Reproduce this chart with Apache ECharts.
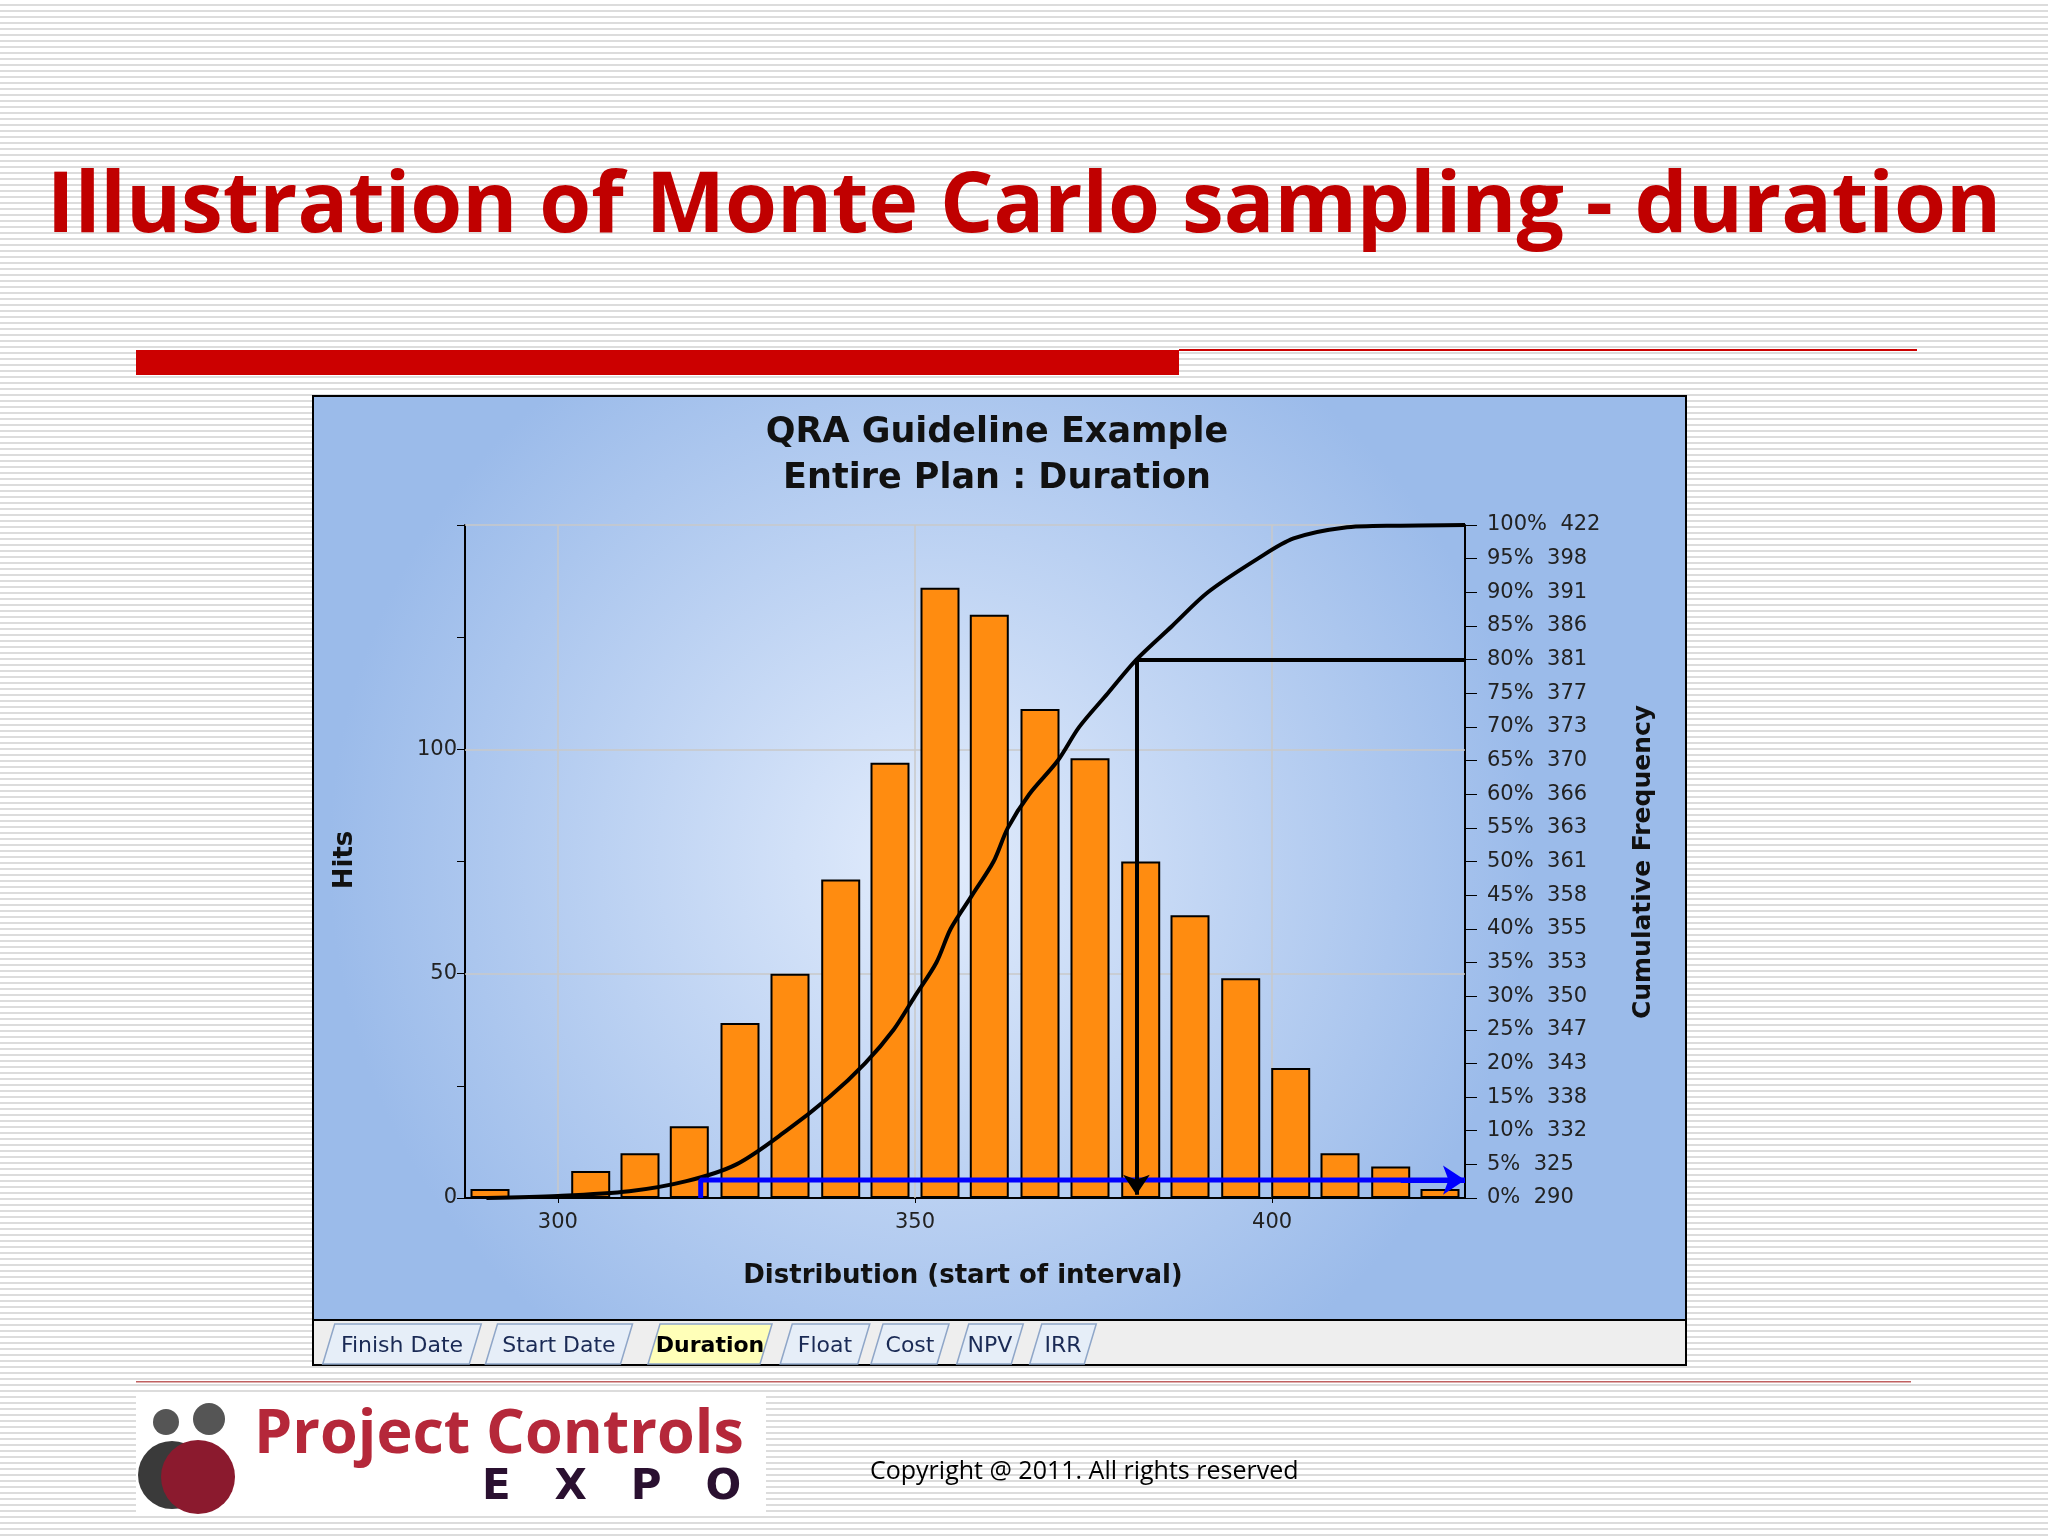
<!DOCTYPE html>
<html><head><meta charset="utf-8">
<script src="https://cdn.jsdelivr.net/npm/echarts@6/dist/echarts.min.js"></script>
<style>
html,body{margin:0;padding:0;width:2048px;height:1536px;overflow:hidden;
background:repeating-linear-gradient(to bottom,#ffffff 0px,#ffffff 4px,#dcdcdc 4px,#dcdcdc 6px);}
#c{width:2048px;height:1536px;}
</style></head><body><div id="c"></div>
<script>
// Bin start positions (distribution) and hits
const binX = [290.5,304.6,311.5,318.4,325.5,332.5,339.6,346.5,353.5,360.4,367.5,374.5,381.6,388.5,395.6,402.6,409.5,416.6,423.5];
const hits = [2,6,10,16,39,50,71,97,136,130,109,98,75,63,49,29,10,7,2];
// Cumulative curve (value, percent)
const cumVal = [290,300,310,318,325,332,338,343,347,350,353,355,358,361,363,366,370,373,377,381,386,391,398,403,410,418,427];
const cumPct = [0,0.3,1,2.5,5,10,15,20,25,30,35,40,45,50,55,60,65,70,75,80,85,90,95,98,99.6,99.9,100];
const rightLabels = ['0%  290','5%  325','10%  332','15%  338','20%  343','25%  347','30%  350','35%  353','40%  355','45%  358','50%  361','55%  363','60%  366','65%  370','70%  373','75%  377','80%  381','85%  386','90%  391','95%  398','100%  422'];
const xTicks = [300,350,400];
const tabs = ['Finish Date','Start Date','Duration','Float','Cost','NPV','IRR'];
const tabX = [400,557,708,823,908,988,1061];

const chart = echarts.init(document.getElementById('c'));
const g = [];
g.push({type:'rect',z:0,shape:{x:313,y:396,width:1373,height:924},
  style:{fill:new echarts.graphic.RadialGradient(0.45,0.5,0.65,[{offset:0,color:'#e2ecfc'},{offset:1,color:'#9bbbea'}]),stroke:'#000',lineWidth:2}});
g.push({type:'rect',z:0,shape:{x:313,y:1320,width:1373,height:45},style:{fill:'#eeeeee',stroke:'#000',lineWidth:2}});
tabs.forEach((t,i)=>{
  const w = t.length*11.5+12;
  g.push({type:'polygon',z:1,shape:{points:[[tabX[i]-w/2-8,1364],[tabX[i]-w/2+4,1324],[tabX[i]+w/2+12,1324],[tabX[i]+w/2,1364]]},
    style:{fill:t==='Duration'?'#ffffb8':'#e6eef8',stroke:'#8fa6c8',lineWidth:1.5}});
  g.push({type:'text',z:2,style:{text:t,x:tabX[i]+2,y:1346,align:'center',verticalAlign:'middle',
    font:(t==='Duration'?'bold ':'')+'22px "DejaVu Sans"',fill:t==='Duration'?'#000':'#1a2a55'}});
});
g.push({type:'text',z:5,style:{text:'Illustration of Monte Carlo sampling - duration',x:1024,y:208,align:'center',verticalAlign:'middle',
  font:'bold 84px "Open Sans"',fill:'#c00000'}});
g.push({type:'rect',z:5,shape:{x:136,y:350,width:1043,height:25},style:{fill:'#cc0000'}});
g.push({type:'rect',z:5,shape:{x:1179,y:349,width:738,height:2},style:{fill:'#cc0000'}});
g.push({type:'rect',z:5,shape:{x:136,y:1381,width:1775,height:1.5},style:{fill:'#c06060'}});
g.push({type:'rect',z:5,shape:{x:136,y:1395,width:630,height:118},style:{fill:'#fff'}});
g.push({type:'circle',z:6,shape:{cx:166,cy:1422,r:13},style:{fill:'#555'}});
g.push({type:'circle',z:6,shape:{cx:209,cy:1419,r:16},style:{fill:'#555'}});
g.push({type:'circle',z:6,shape:{cx:172,cy:1475,r:34},style:{fill:'#3a3a3a'}});
g.push({type:'circle',z:7,shape:{cx:198,cy:1477,r:37},style:{fill:'#8b1a2e'}});
g.push({type:'text',z:6,style:{text:'Project Controls',x:254,y:1436,verticalAlign:'middle',font:'bold 61px "Open Sans"',fill:'#b5283a'}});
g.push({type:'text',z:6,style:{text:'E   X   P   O',x:482,y:1488,verticalAlign:'middle',font:'bold 42px "DejaVu Sans"',fill:'#2a1030'}});
g.push({type:'text',z:6,style:{text:'Copyright @ 2011. All rights reserved',x:870,y:1472,verticalAlign:'middle',font:'25px "Open Sans"',fill:'#000'}});
g.push({type:'text',z:6,style:{text:'QRA Guideline Example\nEntire Plan : Duration',x:997,y:456,align:'center',verticalAlign:'middle',lineHeight:46,font:'bold 35px "DejaVu Sans"',fill:'#111'}});
g.push({type:'text',z:6,style:{text:'Distribution (start of interval)',x:963,y:1276,align:'center',verticalAlign:'middle',font:'bold 26px "DejaVu Sans"',fill:'#111'}});
g.push({type:'text',z:6,rotation:Math.PI/2,x:345,y:860,style:{text:'Hits',align:'center',verticalAlign:'middle',font:'bold 26px "DejaVu Sans"',fill:'#111'}});
g.push({type:'text',z:6,rotation:Math.PI/2,x:1643,y:862,style:{text:'Cumulative Frequency',align:'center',verticalAlign:'middle',font:'bold 25px "DejaVu Sans"',fill:'#111'}});

chart.setOption({
  animation:false,
  graphic:g,
  grid:{left:465,right:583,top:525,bottom:338},
  xAxis:{type:'value',min:287,max:427,splitLine:{show:false},
    axisLine:{lineStyle:{color:'#000',width:2}},
    axisTick:{customValues:xTicks,lineStyle:{color:'#000'}},
    axisLabel:{customValues:xTicks,fontSize:21,color:'#222',fontFamily:'DejaVu Sans',margin:14}},
  yAxis:[
    {type:'value',min:0,max:150,interval:25,splitLine:{show:false},
      axisLine:{show:true,lineStyle:{color:'#000',width:2}},axisTick:{show:true,length:8,lineStyle:{color:'#000'}},
      axisLabel:{fontSize:21,color:'#222',fontFamily:'DejaVu Sans',formatter:v=>v%50===0&&v<150?String(v):''}},
    {type:'value',min:0,max:100,interval:5,position:'right',splitLine:{show:false},
      axisLine:{show:true,lineStyle:{color:'#000',width:2}},axisTick:{show:true,length:12,lineStyle:{color:'#000'}},
      axisLabel:{fontSize:21,color:'#222',fontFamily:'DejaVu Sans',margin:22,formatter:v=>rightLabels[Math.round(v/5)]}}
  ],
  series:[
    {type:'bar',yAxisIndex:0,barWidth:39,data:binX.map((x,i)=>[x,hits[i]]),
      itemStyle:{color:'#ff8c10',borderColor:'#000',borderWidth:2},z:3,
      markLine:{silent:true,symbol:'none',label:{show:false},z:1,lineStyle:{color:'#c8c8c8',width:1.5,type:'solid'},
        data:[{xAxis:300},{xAxis:350},{xAxis:400},{yAxis:50},{yAxis:100},{yAxis:150}]}},
    {type:'line',yAxisIndex:0,data:[[320,0],[320,4],[427,4]],symbol:'none',z:6,
      lineStyle:{color:'#0000ff',width:5},
      markLine:{silent:true,symbol:['none','arrow'],symbolSize:22,label:{show:false},lineStyle:{color:'#0000ff',width:5,type:'solid'},
        data:[[{coord:[418,4]},{coord:[427,4]}]]}},
    {type:'line',yAxisIndex:1,data:cumVal.map((x,i)=>[x,cumPct[i]]),smooth:0.3,symbol:'none',z:5,
      lineStyle:{color:'#000',width:4},
      markLine:{silent:true,label:{show:false},z:7,lineStyle:{color:'#000',width:4,type:'solid'},
        data:[[{coord:[381,80],symbol:'none'},{coord:[427,80],symbol:'none'}],
              [{coord:[381,80],symbol:'none'},{coord:[381,0.5],symbol:'arrow',symbolSize:20}]]}}
  ]
});
</script></body></html>
